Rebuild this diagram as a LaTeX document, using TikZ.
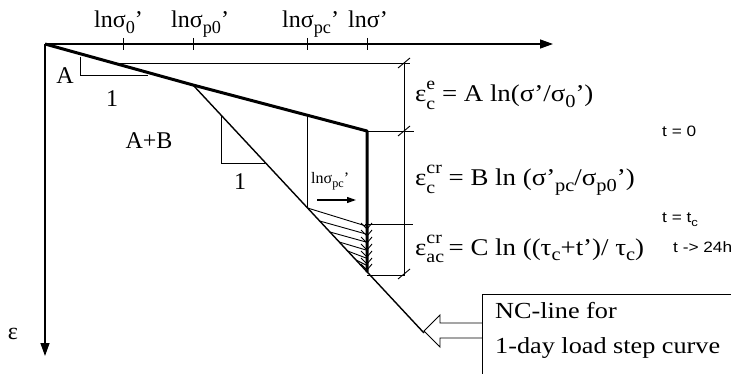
\documentclass[tikz,border=0pt]{standalone}
\usepackage{fontspec}
\setmainfont{Liberation Serif}
\newfontfamily\widef[FakeStretch=1.12]{Liberation Serif}
\newfontfamily\widerf[FakeStretch=1.14]{Liberation Serif}
\newfontfamily\sansf[FakeStretch=1.15]{Liberation Sans}
\usetikzlibrary{arrows.meta,calc}
\newcommand\ssx[2]{\rlap{\raisebox{-0.3em}{\fontsize{0.74em}{0.8em}\selectfont #1}}\raisebox{0.5em}{\fontsize{0.74em}{0.8em}\selectfont #2}}
\newcommand\sbx[1]{\raisebox{-0.22em}{\fontsize{0.76em}{0.8em}\selectfont #1}}
\begin{document}
\begin{tikzpicture}[x=1pt,y=-1pt,
  axisline/.style={line width=1.3pt,-{Triangle[length=13pt,width=9pt]}},
  thinline/.style={line width=0.9pt},
  midline/.style={line width=1.4pt},
  thickline/.style={line width=3pt},
  ticklbl/.style={font=\fontsize{24}{26}\selectfont,inner sep=0pt,anchor=base west},
  eqlbl/.style={font=\widef\fontsize{24}{26}\selectfont,inner sep=0pt,anchor=base west},
  smalllbl/.style={font=\sansf\fontsize{15}{17}\selectfont,inner sep=0pt,anchor=base west},
  plainlbl/.style={font=\fontsize{24}{26}\selectfont,inner sep=0pt},
  nclbl/.style={font=\widerf\fontsize{23}{26}\selectfont,inner sep=0pt,anchor=base west},
]
\useasboundingbox (0,0) rectangle (731,374);
% key points
\coordinate (O) at (45,44);
\coordinate (Xend) at (553,44);
\coordinate (Yend) at (45,356);
\coordinate (P0) at (193,85);
\coordinate (E) at (367,131);
\coordinate (NCend) at (424,333);
\coordinate (Ebot) at (367,272);
% axes
\draw[axisline] (O) -- (Xend);
\draw[axisline] (O) -- (Yend);
\foreach \x in {123,193,307,367} \draw[thinline] (\x,38) -- (\x,50);
% tick labels
\node[ticklbl] (l1) at (94,28) {lnσ\sbx{0}’};
\node[ticklbl] (l2) at (171,28) {lnσ\sbx{p0}’};
\node[ticklbl] (l3) at (282,28) {lnσ\sbx{pc}’};
\node[ticklbl] (l4) at (348,28) {lnσ’};
\node[plainlbl] (eps) at (13,334) {ε};
% thick compression line
\draw[thickline,line join=round] (O) -- (P0) -- (E) -- (Ebot);
% NC line
\draw[midline] (P0) -- (NCend);
% slope triangles
\draw[thinline] (80,57) -- (80,75) -- (148,75);
\draw[thinline] (221,115) -- (221,163) -- (265,163);
\node[plainlbl] (lA) at (65,76) {A};
\node[plainlbl] (l1a) at (112,99) {1};
\node[plainlbl] (lAB) at (149,141) {A+B};
\node[plainlbl] (l1b) at (240,182) {1};
% thin vertical at sigma_pc
\draw[thinline] (307,115) -- (307,207);
\node[font=\fontsize{16}{18}\selectfont,inner sep=0pt,anchor=base west] (lpc) at (311,184) {lnσ\sbx{pc}’};
\coordinate (ar1) at (317,200);
\coordinate (ar2) at (356,200);
\draw[line width=1.2pt,-{Triangle[length=9pt,width=6pt]}] (ar1) -- (ar2);
% hatching
\foreach \ys/\ye in {208/226,221/234,232/242,242/250,251/258,260/265}
  \draw[thinline] ({193+(\ys-85)/1.0736},\ys) -- (366,\ye);
\foreach \y in {229,236,243,250,257,264,270}
  \draw[thinline] (361,\y-6) -- (367,\y) -- (372,\y-6);
% dimension lines
\draw[thinline] (120,63) -- (410,63);
\draw[thinline] (E) -- (414,131);
\draw[thinline] (365,224) -- (413,224);
\draw[thinline] (Ebot |- 0,275) -- (404,275);
\draw[thinline] (404,63) -- (404,276);
\foreach \y in {63,131,274}
  \draw[thinline] (398,\y+5) -- (410,\y-5);
% equations
\node[eqlbl] (e1) at (415,102) {ε\ssx{c}{e} = A ln(σ’/σ\sbx{0}’)};
\node[eqlbl] (e2) at (415,186) {ε\ssx{c}{cr} = B ln (σ’\sbx{pc}/σ\sbx{p0}’)};
\node[eqlbl] (e3) at (415,255) {ε\ssx{ac}{cr} = C ln ((τ\sbx{c}+t’)/ τ\sbx{c})};
\node[smalllbl] (s1) at (662,137) {t = 0};
\node[smalllbl] (s2) at (662,223) {t = t\sbx{c}};
\node[smalllbl] (s3) at (673,252) {t -> 24h};
% NC box
\node[draw,thinline,anchor=north west,minimum width=270pt,minimum height=95pt] (nc) at (482,294) {};
\node[nclbl] (nc1) at (495,318) {NC-line for};
\node[nclbl] (nc2) at (495,353) {1-day load step curve};
% hollow arrow
\draw[thinline,line join=miter] (nc.west |- 0,323) -- (440,323) -- (440,315) -- (424,331)
  -- (440,347) -- (440,338) -- (nc.west |- 0,338);
\end{tikzpicture}
\end{document}
